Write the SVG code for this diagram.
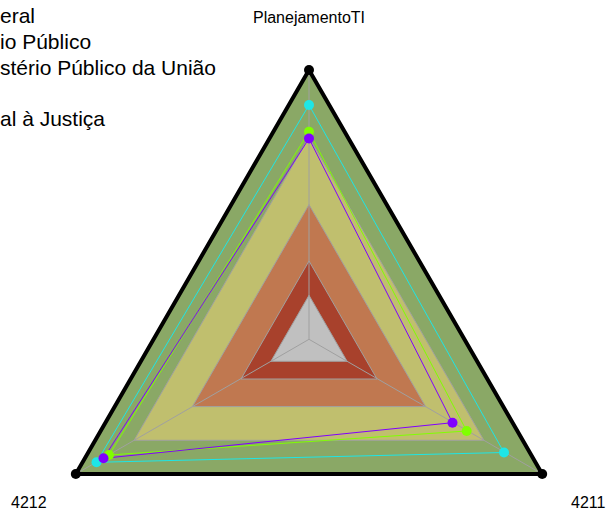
<svg xmlns="http://www.w3.org/2000/svg" width="606" height="513" viewBox="0 0 606 513">
<style>
text{font-family:"Liberation Sans",Arial,sans-serif;fill:#000}
.leg{font-size:21px}
.ax{font-size:16px}
.band{stroke:#a0a0a0;stroke-width:1}
.spoke{stroke:#a0a0a0;stroke-width:1;fill:none}
.d{fill:none;stroke-width:1}
</style>
<rect width="606" height="513" fill="#fff"/>
<g id="legend">
<text class="leg" x="0" y="23">eral</text>
<text class="leg" x="0" y="49">io Público</text>
<text class="leg" x="0" y="75">stério Público da União</text>
<text class="leg" x="0" y="126">al à Justiça</text>
</g>
<g id="bands">
<polygon class="band" fill="#8aa866" points="309,70 542.2,474 75.8,474"/>
<polygon class="band" fill="#c0bf6e" points="309,137.3 483.9,440.3 134.1,440.3"/>
<polygon class="band" fill="#c07850" points="309,204.6 425.6,406.6 192.4,406.6"/>
<polygon class="band" fill="#a8412c" points="309,261 377,379 241,379"/>
<polygon class="band" fill="#c0c0c0" points="309,295.3 347.1,361.3 270.9,361.3"/>
</g>
<g id="connectors">
<path class="spoke" d="M309,339.3 L309,70 M309,339.3 L542.2,474 M309,339.3 L75.8,474"/>
<polygon id="s-cyan" class="d" stroke="#1ee6e6" points="309,105 504,452.5 96.5,462.3"/>
<polygon id="s-lime" class="d" stroke="#80ff00" points="309,131.7 466.7,431 109,455"/>
<polygon id="s-purple" class="d" stroke="#8000ff" points="309,138.5 452.5,422.7 103.5,458.3"/>
</g>
<g id="dots">
<g fill="#1ee6e6"><circle cx="309" cy="105" r="5"/><circle cx="504" cy="452.5" r="5"/><circle cx="96.5" cy="462.3" r="5"/></g>
<g fill="#80ff00"><circle cx="309" cy="131.7" r="5"/><circle cx="466.7" cy="431" r="5"/><circle cx="109" cy="455" r="5"/></g>
<g fill="#8000ff"><circle cx="309" cy="138.5" r="5"/><circle cx="452.5" cy="422.7" r="5"/><circle cx="103.5" cy="458.3" r="5"/></g>
</g>
<g id="frame">
<polygon points="309,70 542.2,474 75.8,474" fill="none" stroke="#000" stroke-width="4" stroke-linejoin="round"/>
<circle cx="309" cy="70" r="5"/><circle cx="542.2" cy="474" r="5"/><circle cx="75.8" cy="474" r="5"/>
</g>
<g id="axis-labels">
<text class="ax" x="309" y="23" text-anchor="middle">PlanejamentoTI</text>
<text class="ax" x="11" y="508">4212</text>
<text class="ax" x="571" y="508">4211</text>
</g>
</svg>
